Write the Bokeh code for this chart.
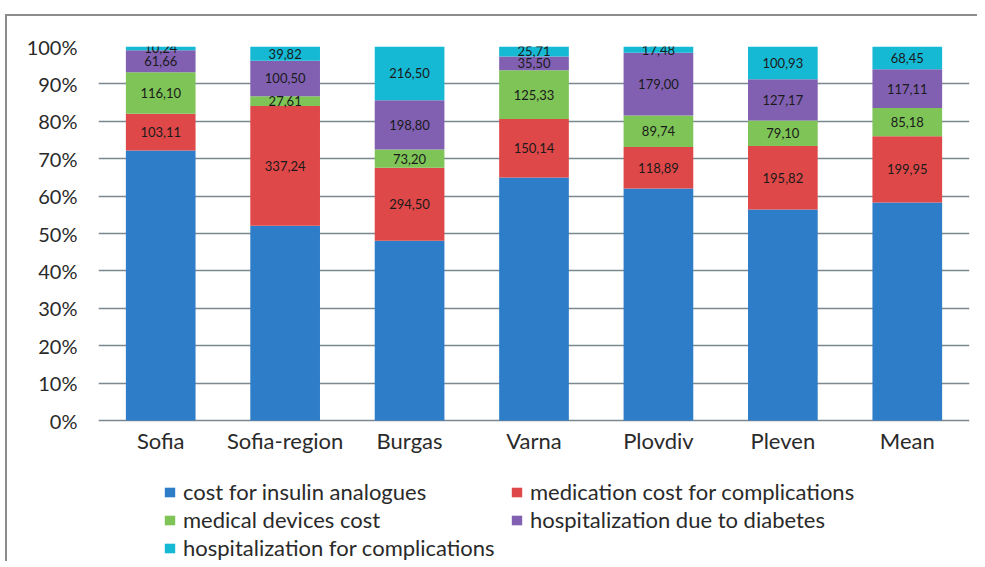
from bokeh.plotting import figure
from bokeh.models import ColumnDataSource, NumeralTickFormatter, Legend, LegendItem, FixedTicker
from bokeh.core.properties import value
from bokeh.embed import file_html
from bokeh.resources import INLINE

categories = ["Sofia", "Sofia-region", "Burgas", "Varna", "Plovdiv", "Pleven", "Mean"]
insulin = [756, 549, 725, 625, 661, 651, 658]
medication = [103.11, 337.24, 294.50, 150.14, 118.89, 195.82, 199.95]
devices = [116.10, 27.61, 73.20, 125.33, 89.74, 79.10, 85.18]
hosp_diabetes = [61.66, 100.50, 198.80, 35.50, 179.00, 127.17, 117.11]
hosp_compl = [10.24, 39.82, 216.50, 25.71, 17.48, 100.93, 68.45]

series_names = ["cost for insulin analogues", "medication cost for complications",
                "medical devices cost", "hospitalization due to diabetes",
                "hospitalization for complications"]
series = [insulin, medication, devices, hosp_diabetes, hosp_compl]
colors = ["#2e7dc8", "#df4848", "#7ec457", "#8160b2", "#16b9d4"]
keys = ["s0", "s1", "s2", "s3", "s4"]

totals = [sum(vals) for vals in zip(*series)]
data = {"cat": categories}
for k, s in zip(keys, series):
    data[k] = [v / t for v, t in zip(s, totals)]
src = ColumnDataSource(data)

FONT = "Lato"
TXT = "#2a2a2a"
p = figure(x_range=categories, y_range=(-0.377, 1), width=977, height=561,
           output_backend="svg", toolbar_location=None,
           min_border_left=98, min_border_right=8, min_border_top=46, min_border_bottom=0)
p.styles = {"box-shadow": "inset 5px 14px 0 0 #ffffff, inset 7px 16px 0 0 #8c8c8c",
            "background-color": "#ffffff"}
p.border_fill_color = None
p.outline_line_color = None
p.background_fill_color = "white"

renderers = p.vbar_stack(keys, x="cat", width=0.56, color=colors, source=src, line_color=None)

# value labels for all series except insulin
lx, ly, lt = [], [], []
for j, cat in enumerate(categories):
    base = 0.0
    for i, k in enumerate(keys):
        frac = data[k][j]
        if i > 0:
            lx.append(cat)
            ly.append(base + frac / 2)
            lt.append(f"{series[i][j]:.2f}".replace(".", ","))
        base += frac
p.text(x=lx, y=ly, text=lt, text_align="center", text_baseline="middle",
       text_font=value(FONT), text_font_size="13px", text_color="#1a1a1a")

# category labels under the bars
p.text(x=categories, y=[-0.0535] * len(categories), text=categories,
       text_align="center", text_baseline="middle",
       text_font=value(FONT), text_font_size="22px", text_color=TXT)

p.yaxis.ticker = FixedTicker(ticks=[i / 10 for i in range(11)])
p.yaxis.formatter = NumeralTickFormatter(format="0%")
p.yaxis.axis_line_color = None
p.yaxis.major_tick_line_color = None
p.yaxis.major_tick_out = 0
p.yaxis.major_tick_in = 0
p.yaxis.minor_tick_line_color = None
p.yaxis.major_label_text_font = FONT
p.yaxis.major_label_text_font_size = "20px"
p.yaxis.major_label_text_color = TXT
p.yaxis.major_label_standoff = 21

p.xaxis.visible = False
p.xgrid.grid_line_color = None
p.ygrid.ticker = FixedTicker(ticks=[i / 10 for i in range(11)])
p.ygrid.grid_line_color = "#7a8890"
p.ygrid.grid_line_width = 1.5

order = [0, 2, 4, 1, 3]
items = [LegendItem(label=series_names[i], renderers=[renderers[i]]) for i in order]
legend = Legend(items=items, orientation="vertical", nrows=3, location=(65, 0),
                label_text_font=FONT, label_text_font_size="22px", label_text_color=TXT,
                glyph_width=13, glyph_height=12, label_standoff=7, spacing=1, label_width=326,
                margin=0, padding=0, border_line_color=None, background_fill_alpha=0)
p.add_layout(legend, "center")

open("out.html", "w").write(file_html(p, INLINE))
